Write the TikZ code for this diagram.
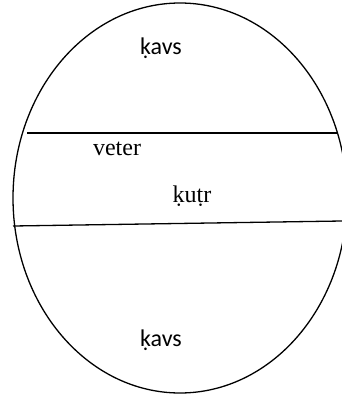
\documentclass[tikz,border=0pt]{standalone}
\usepackage{fontspec}
\setmainfont{Liberation Serif}
\newfontfamily\calfont{Carlito}
\usetikzlibrary{positioning}
\tikzset{
  every picture/.style={line width=1.3pt},
  serif/.style={font=\fontsize{24}{28}\selectfont, inner sep=0pt},
  sans/.style={font=\calfont\fontsize{24}{28}\selectfont, inner sep=0pt},
}
\begin{document}
\begin{tikzpicture}[x=1pt, y=-1pt]
  \useasboundingbox (0,0) rectangle (342,397);
  \clip (0,0) rectangle (342,397);
  % outer shell
  \draw (180,198) ellipse [x radius=167, y radius=195];
  % the two cuts
  \coordinate (upL) at (27,133);
  \coordinate (upR) at (338,133);
  \coordinate (loL) at (13,226);
  \coordinate (loR) at (342,221);
  \draw (upL) -- (upR);
  \draw (loL) -- (loR);
  % labels
  \node[sans]  (kavsT) at (161,48)  {ḳavs};
  \node[serif] (veter) at (117,149) {veter};
  \node[serif] (kutr)  at (192,196) {ḳuṭr};
  \node[sans]  (kavsB) at (161,340) {ḳavs};
\end{tikzpicture}
\end{document}
